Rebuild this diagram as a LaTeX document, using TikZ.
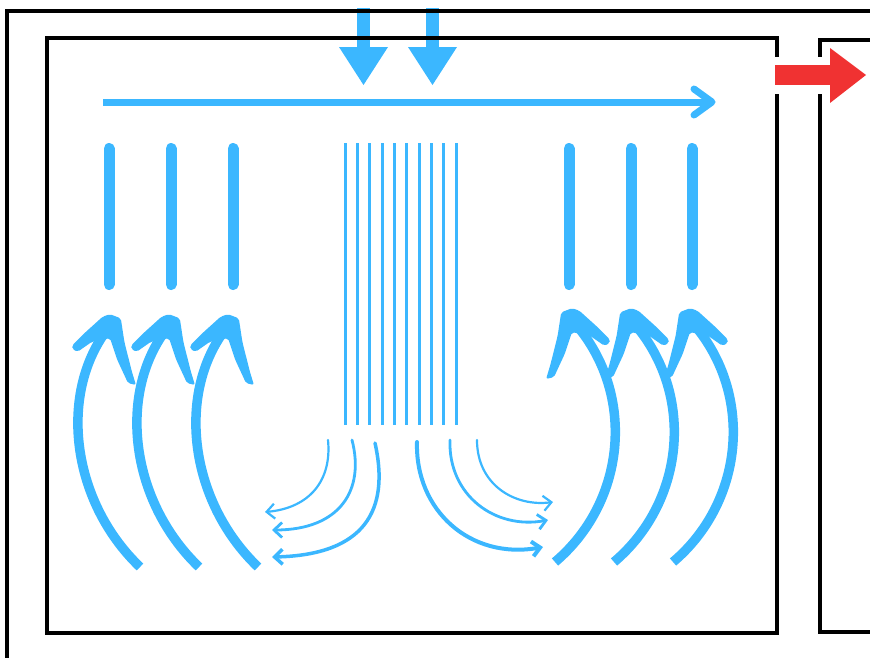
\documentclass[tikz,border=0pt]{standalone}
\usetikzlibrary{arrows.meta}
\definecolor{flow}{RGB}{59,183,255}
\definecolor{hot}{RGB}{240,50,50}
\tikzset{
  framestroke/.style={draw=black,line width=3.4pt},
  bar/.style={draw=flow,line width=11pt,line cap=round},
  fine/.style={draw=flow,line width=3pt},
  bigshaft/.style={draw=flow,line width=9.5pt},
  smallarrow/.style={draw=flow,line cap=round,-{Straight Barb[length=8pt,width=15pt]}},
  headshape/.style={fill=flow,rounded corners=2pt},
  lhead/.pic={\fill[headshape,scale=1.08] (-6.7,-1.3) -- (0,-3.5) -- (10,0.3) -- (13.3,22) -- (20,48.7) -- (24,62) -- (16.7,60.3) -- (6.7,38.7) -- (0,18.7) -- (-16.7,22) -- (-30,31.3) -- (-35,28.7) -- (-35,25.3) -- (-23.3,13.7) -- cycle;},
  rhead/.pic={\fill[headshape,scale=1.08] (6.7,-1.3) -- (0,-3.5) -- (-10,0.3) -- (-13.3,22) -- (-20,48.7) -- (-24,62) -- (-16.7,60.3) -- (-6.7,38.7) -- (0,18.7) -- (16.7,22) -- (30,31.3) -- (35,28.7) -- (35,25.3) -- (23.3,13.7) -- cycle;}
}
\begin{document}
\begin{tikzpicture}[x=1pt,y=-1pt]
\useasboundingbox (0,0) rectangle (870,657);

% top inflow arrows
\fill[flow] (357,8) rectangle (370,49);
\fill[flow] (339,47) -- (388,47) -- (363.5,85) -- cycle;
\fill[flow] (426,8) rectangle (439,49);
\fill[flow] (408,47) -- (457,47) -- (432.5,85) -- cycle;

% frames
\draw[framestroke] (872,11) -- (7,11) -- (7,660);
\draw[framestroke] (47,38) rectangle (777,633);
\draw[framestroke] (872,40) -- (820,40) -- (820,632) -- (872,632);

% horizontal arrow
\draw[flow,line width=7pt] (103,102) -- (711,102);
\draw[flow,line width=7pt,line cap=round,line join=round] (694,89) -- (712,102) -- (694,115);

% thick bars
\draw[bar] (109,148.5) -- (109,284.5);
\draw[bar] (171,148.5) -- (171,284.5);
\draw[bar] (233,148.5) -- (233,284.5);
\draw[bar] (569,148.5) -- (569,284.5);
\draw[bar] (631,148.5) -- (631,284.5);
\draw[bar] (692,148.5) -- (692,284.5);

% thin lines
\draw[fine] (345,143) -- (345,425);
\draw[fine] (357.3,143) -- (357.3,425);
\draw[fine] (369.7,143) -- (369.7,425);
\draw[fine] (382,143) -- (382,425);
\draw[fine] (394.3,143) -- (394.3,425);
\draw[fine] (406.7,143) -- (406.7,425);
\draw[fine] (419,143) -- (419,425);
\draw[fine] (431.3,143) -- (431.3,425);
\draw[fine] (443.7,143) -- (443.7,425);
\draw[fine] (456,143) -- (456,425);

% big curved arrows, left
\draw[bigshaft] (140,567) .. controls (70,500) and (58,390) .. (110,326);
\draw[bigshaft] (199,567) .. controls (129,500) and (117,390) .. (169,326);
\draw[bigshaft] (258,567) .. controls (188,500) and (176,390) .. (228,326);
\pic at (110,318) {lhead};
\pic at (169,318) {lhead};
\pic at (228,318) {lhead};

% big curved arrows, right
\draw[bigshaft] (555,562) .. controls (628,500) and (636,390) .. (572,320);
\draw[bigshaft] (614,562) .. controls (687,500) and (695,390) .. (631,320);
\draw[bigshaft] (673,562) .. controls (746,500) and (754,390) .. (690,320);
\pic at (572,312) {rhead};
\pic at (631,312) {rhead};
\pic at (690,312) {rhead};

% small outflow arrows, left
\draw[smallarrow,line width=2.2pt] (328,440) .. controls (332,480) and (310,508) .. (265,512);
\draw[smallarrow,line width=2.8pt] (352,440) .. controls (365,490) and (340,530) .. (272,530);
\draw[smallarrow,line width=3.5pt] (375,443) .. controls (390,510) and (365,555) .. (272,557);
% small outflow arrows, right
\draw[smallarrow,line width=2.2pt] (477,440) .. controls (477,485) and (515,507) .. (553,502);
\draw[smallarrow,line width=2.8pt] (450,440) .. controls (448,495) and (495,530) .. (548,520);
\draw[smallarrow,line width=4pt] (417,442) .. controls (415,510) and (470,560) .. (543,547);

% red outflow arrow
\fill[white] (769,57) rectangle (836,94);
\fill[hot] (775,65) rectangle (831,85);
\fill[hot] (830,48) -- (866,75) -- (830,103) -- cycle;
\end{tikzpicture}
\end{document}
